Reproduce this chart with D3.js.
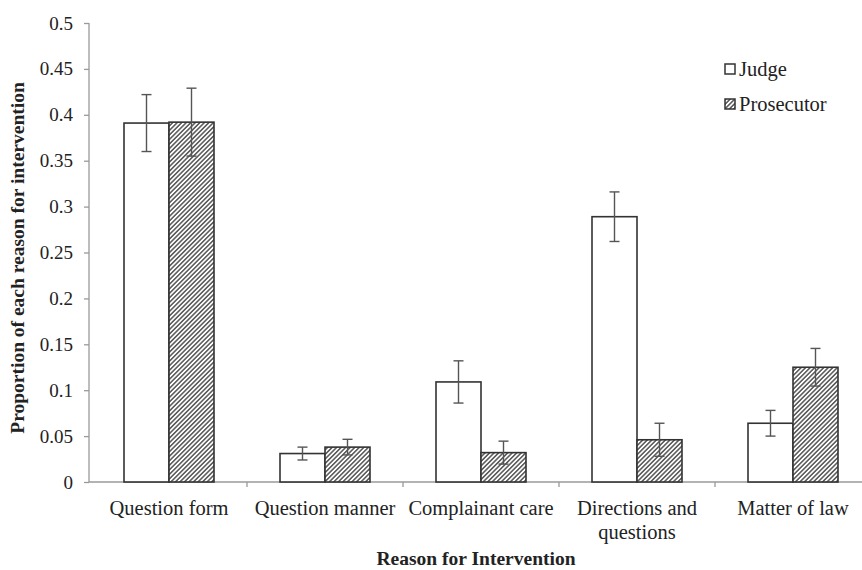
<!DOCTYPE html>
<html>
<head>
<meta charset="utf-8">
<script src="https://cdn.jsdelivr.net/npm/d3@7"></script>
<style>
  html, body { margin: 0; padding: 0; background: #fff; }
  svg { display: block; }
  svg text { font-family: "Liberation Serif", "Times New Roman", serif; fill: #222; }
</style>
</head>
<body>
<svg id="chart" width="862" height="570"></svg>
<script>
// Reasons for intervention (x categories)
const categories = ["Question form", "Question manner", "Complainant care", "Directions and questions", "Matter of law"];
const seriesNames = ["Judge", "Prosecutor"];
// Proportions per category
const judgeValues = [0.391, 0.031, 0.109, 0.289, 0.064];
const prosecutorValues = [0.392, 0.038, 0.032, 0.046, 0.125];
// Error bar half-widths
const judgeErrors = [0.031, 0.007, 0.023, 0.027, 0.014];
const prosecutorErrors = [0.037, 0.0085, 0.0125, 0.018, 0.0205];
// Y axis ticks
const yTicks = [0, 0.05, 0.1, 0.15, 0.2, 0.25, 0.3, 0.35, 0.4, 0.45, 0.5];
const yTickLabels = ["0", "0.05", "0.1", "0.15", "0.2", "0.25", "0.3", "0.35", "0.4", "0.45", "0.5"];

const svg = d3.select("#chart");
const serif = "'Liberation Serif', 'Times New Roman', serif";
const axisColor = "#9a9a9a";
const barStroke = "#333";

// Diagonal hatch for the prosecutor bars
const defs = svg.append("defs");
const pat = defs.append("pattern")
  .attr("id", "hatch")
  .attr("patternUnits", "userSpaceOnUse")
  .attr("width", 3.2).attr("height", 3.2)
  .attr("patternTransform", "rotate(45)");
pat.append("rect").attr("width", 3.2).attr("height", 3.2).attr("fill", "#fff");
pat.append("line").attr("x1", 0.8).attr("y1", 0).attr("x2", 0.8).attr("y2", 3.2)
  .attr("stroke", "#3a3a3a").attr("stroke-width", 1.3);

const y = d3.scaleLinear().domain([0, 0.5]).range([482, 23]);
const x = d3.scaleBand().domain(categories).range([91, 871]).paddingInner(0).paddingOuter(0);
const barW = 45;

// Y axis
const yAxis = d3.axisLeft(y).tickValues(yTicks)
  .tickFormat((d, i) => yTickLabels[i]).tickSize(5).tickPadding(11);
const gy = svg.append("g").attr("transform", "translate(89,0)").call(yAxis)
  .attr("font-family", serif);
gy.select(".domain").attr("stroke", axisColor).attr("stroke-width", 1.3).attr("d", "M0,23V482");
gy.selectAll(".tick line").attr("stroke", axisColor).attr("stroke-width", 1.3);
gy.selectAll(".tick text").attr("font-size", 19).style("font-family", serif).attr("fill", "#222");

// X axis line with category boundary ticks
svg.append("line").attr("x1", 89).attr("x2", 862).attr("y1", 482).attr("y2", 482)
  .attr("stroke", axisColor).attr("stroke-width", 1.3);
svg.append("g").selectAll("line").data(categories.slice(1)).join("line")
  .attr("x1", d => x(d)).attr("x2", d => x(d))
  .attr("y1", 482).attr("y2", 487)
  .attr("stroke", axisColor).attr("stroke-width", 1.3);

// Category labels
const labelLines = [["Question form"], ["Question manner"], ["Complainant care"], ["Directions and", "questions"], ["Matter of law"]];
categories.forEach((c, i) => {
  const cx = x(c) + x.bandwidth() / 2;
  const t = svg.append("text").attr("x", cx).attr("y", 515)
    .attr("text-anchor", "middle").attr("font-size", 20.5).style("font-family", serif);
  labelLines[i].forEach((ln, j) => {
    t.append("tspan").attr("x", cx).attr("dy", j === 0 ? 0 : 24).text(ln);
  });
});

// Bars
const series = [
  { name: seriesNames[0], values: judgeValues, errs: judgeErrors, fill: "#fff", offset: -barW },
  { name: seriesNames[1], values: prosecutorValues, errs: prosecutorErrors, fill: "url(#hatch)", offset: 0 }
];
series.forEach(s => {
  const g = svg.append("g");
  g.selectAll("rect").data(categories).join("rect")
    .attr("x", d => x(d) + x.bandwidth() / 2 + s.offset)
    .attr("y", (d, i) => y(s.values[i]))
    .attr("width", barW)
    .attr("height", (d, i) => y(0) - y(s.values[i]))
    .attr("fill", s.fill)
    .attr("stroke", barStroke).attr("stroke-width", 1.6);
});

// Error bars
series.forEach(s => {
  const g = svg.append("g").attr("stroke", "#555").attr("stroke-width", 1.4);
  categories.forEach((c, i) => {
    const cx = x(c) + x.bandwidth() / 2 + s.offset + barW / 2;
    const hi = y(s.values[i] + s.errs[i]);
    const lo = y(s.values[i] - s.errs[i]);
    g.append("line").attr("x1", cx).attr("x2", cx).attr("y1", hi).attr("y2", lo);
    g.append("line").attr("x1", cx - 5).attr("x2", cx + 5).attr("y1", hi).attr("y2", hi);
    g.append("line").attr("x1", cx - 5).attr("x2", cx + 5).attr("y1", lo).attr("y2", lo);
  });
});

// Legend
const legend = svg.append("g");
series.forEach((s, i) => {
  const ly = 64 + i * 35;
  legend.append("rect").attr("x", 725).attr("y", ly).attr("width", 10).attr("height", 10)
    .attr("fill", s.fill).attr("stroke", barStroke).attr("stroke-width", 1.5);
  legend.append("text").attr("x", 739).attr("y", ly + 12).attr("font-size", 20.5)
    .style("font-family", serif).text(s.name);
});

// Axis titles
svg.append("text").attr("x", 476).attr("y", 565).attr("text-anchor", "middle")
  .attr("font-size", 19.5).attr("font-weight", "bold").style("font-family", serif)
  .text("Reason for Intervention");
svg.append("text").attr("transform", "translate(24,258) rotate(-90)").attr("text-anchor", "middle")
  .attr("font-size", 19.5).attr("font-weight", "bold").style("font-family", serif)
  .text("Proportion of each reason for intervention");
</script>
</body>
</html>
